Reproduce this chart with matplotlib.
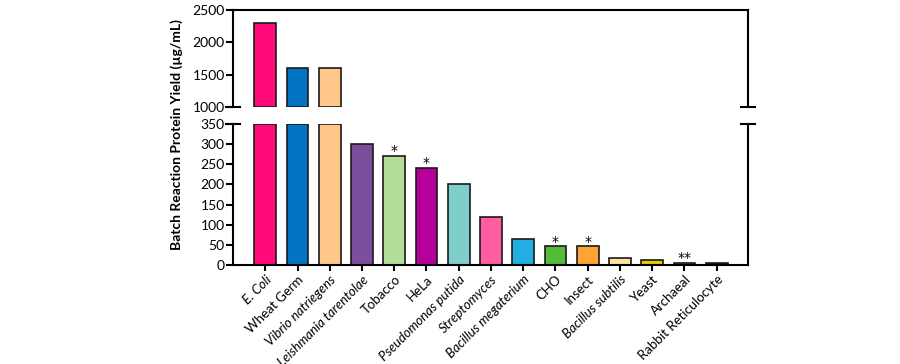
import matplotlib
matplotlib.use("Agg")
import matplotlib.pyplot as plt
import numpy as np

plt.rcParams["font.family"] = ["Lato", "DejaVu Sans"]

labels = ["E. Coli", "Wheat Germ", "Vibrio natriegens", "Leishmania tarentolae",
          "Tobacco", "HeLa", "Pseudomonas putida", "Streptomyces",
          "Bacillus megaterium", "CHO", "Insect", "Bacillus subtilis",
          "Yeast", "Archaeal", "Rabbit Reticulocyte"]
italic = [True, False, True, True, False, False, True, True,
          True, False, False, True, False, False, False]
yields = [2300, 1600, 1600, 300, 270, 240, 200, 120, 65, 46, 46, 18, 13, 6, 4]
stars = ["", "", "", "", "*", "*", "", "", "", "*", "*", "", "", "**", ""]
colors = ["#FF0A78", "#0272C2", "#FFC78A", "#7A4E9C", "#B2DE98", "#B5009C",
          "#7FCECE", "#FF5FA2", "#22AEE0", "#52BC38", "#FFA335", "#FFE59C",
          "#E8C800", "#6E5E7E", "#222222"]

top_lim = (1000, 2500)
bot_lim = (0, 350)

x = np.arange(len(labels))
y = np.array(yields, dtype=float)
lw = 1.5

fig = plt.figure(figsize=(9, 3.64), dpi=100)
ax_top = fig.add_axes([0.2589, 0.706, 0.5722, 0.2665])
ax_bot = fig.add_axes([0.2589, 0.272, 0.5722, 0.3873])

# upper panel: only the part of each bar above the break
m = y > top_lim[0]
ax_top.bar(x[m], y[m] - top_lim[0], bottom=top_lim[0], width=0.68,
           color=np.array(colors)[m], edgecolor="#1a1a1a", linewidth=1.2)
# lower panel: bars cut at the break
ax_bot.bar(x, np.minimum(y, bot_lim[1]), width=0.68, color=colors,
           edgecolor="#1a1a1a", linewidth=1.2)

for ax in (ax_top, ax_bot):
    ax.set_xlim(-1.0, 14.97)
    for s in ax.spines.values():
        s.set_linewidth(lw)
    ax.tick_params(axis="y", direction="out", length=5, width=lw, labelsize=10, pad=1)

ax_top.set_ylim(*top_lim)
ax_top.set_yticks([1000, 1500, 2000, 2500])
ax_top.spines["bottom"].set_visible(False)
ax_top.set_xticks([])

ax_bot.set_ylim(*bot_lim)
ax_bot.set_yticks(np.arange(0, 351, 50))
ax_bot.spines["top"].set_visible(False)
ax_bot.set_xticks(x)
ax_bot.tick_params(axis="x", direction="out", length=4, width=lw, pad=2)
ax_bot.set_xticklabels(labels, rotation=45, ha="right", rotation_mode="anchor", fontsize=9.5)
for lab, it in zip(ax_bot.get_xticklabels(), italic):
    if it:
        lab.set_fontstyle("italic")

# break marks across both vertical spines
for ax, yv in ((ax_top, 0.0), (ax_bot, 1.0)):
    for xv in (0.0, 1.0):
        ax.plot([xv - 0.014, xv + 0.014], [yv, yv], transform=ax.transAxes,
                color="black", lw=lw, clip_on=False)

# significance stars
for xi, v, s in zip(x, yields, stars):
    if s:
        ax_bot.annotate(s, (xi, v), xytext=(0, 3.5),
                        textcoords="offset points", ha="center", va="center",
                        fontsize=10, family="DejaVu Sans")

fig.text(0.196, 0.63, "Batch Reaction Protein Yield (\u00b5g/mL)", rotation=90,
         ha="center", va="center", fontsize=10, fontweight="bold")

fig.savefig("out.png", dpi=100)
